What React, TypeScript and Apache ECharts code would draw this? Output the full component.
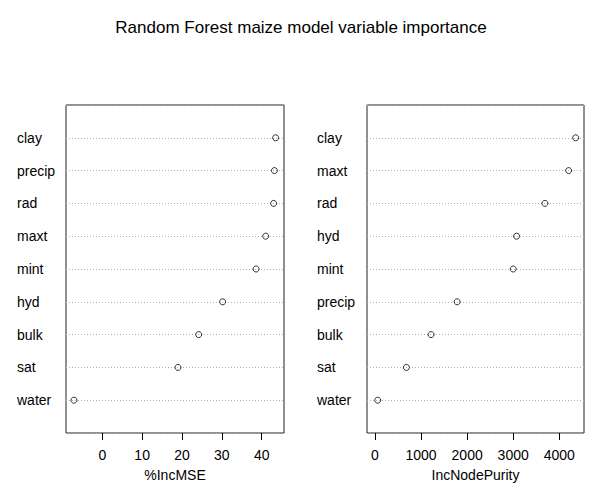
import React, { useEffect, useRef } from "react";
import * as echarts from "echarts";

const titleText = "Random Forest maize model variable importance";

const mseVars = ["clay", "precip", "rad", "maxt", "mint", "hyd", "bulk", "sat", "water"];
const mseValues = [43.5, 43.2, 43.0, 41.0, 38.6, 30.2, 24.2, 19.0, -7.1];
const mseTicks = [0, 10, 20, 30, 40];

const purityVars = ["clay", "maxt", "rad", "hyd", "mint", "precip", "bulk", "sat", "water"];
const purityValues = [4356, 4204, 3689, 3073, 3000, 1783, 1217, 682, 58];
const purityTicks = [0, 1000, 2000, 3000, 4000];

const FONT = "'Liberation Sans', Arial, sans-serif";
const rowPositions = [1, 2, 3, 4, 5, 6, 7, 8, 9];

function makeY(gridIndex: number, vars: string[], margin: number) {
  const n = vars.length;
  return {
    type: "value",
    gridIndex,
    min: 0,
    max: n + 1,
    interval: 1,
    axisLine: { show: false },
    axisTick: { show: false },
    splitLine: { show: true, lineStyle: { color: "#b0b0b0", type: [1, 2], width: 1 } },
    axisLabel: {
      customValues: rowPositions,
      align: "left",
      margin,
      fontFamily: FONT,
      fontSize: 14,
      color: "#000",
      formatter: (v: number) => vars[n - v] ?? "",
    },
  };
}

function makeX(gridIndex: number, min: number, max: number, ticks: number[], name: string) {
  return {
    type: "value",
    gridIndex,
    min,
    max,
    name,
    nameLocation: "middle",
    nameGap: 35,
    nameTextStyle: { fontFamily: FONT, fontSize: 14, color: "#000" },
    axisLine: { show: false },
    axisTick: { show: true, length: 7, customValues: ticks, lineStyle: { color: "#000" } },
    axisLabel: {
      customValues: ticks,
      margin: 15,
      fontFamily: FONT,
      fontSize: 14,
      color: "#000",
      formatter: (v: number) => String(v),
    },
    splitLine: { show: false },
  };
}

function toData(values: number[]) {
  const n = values.length;
  return values.map((v, i) => [v, n - i]);
}

export default function App() {
  const ref = useRef<HTMLDivElement>(null);
  useEffect(() => {
    if (!ref.current) return;
    const chart = echarts.init(ref.current, null, { renderer: "svg" });
    const symbolStyle = { color: "rgba(255,255,255,0)", borderColor: "#000", borderWidth: 1 };
    chart.setOption({
      animation: false,
      backgroundColor: "#fff",
      title: {
        text: titleText,
        left: "center",
        top: 14,
        textStyle: { fontFamily: FONT, fontSize: 17, fontWeight: "normal", color: "#000" },
      },
      grid: [
        { left: 66, top: 105, width: 218, height: 328, show: true, borderColor: "#222", borderWidth: 1, backgroundColor: "transparent" },
        { left: 367, top: 105, width: 217, height: 328, show: true, borderColor: "#222", borderWidth: 1, backgroundColor: "transparent" },
      ],
      xAxis: [
        makeX(0, -9.1, 45.6, mseTicks, "%IncMSE"),
        makeX(1, -174, 4537, purityTicks, "IncNodePurity"),
      ],
      yAxis: [makeY(0, mseVars, 49), makeY(1, purityVars, 50)],
      series: [
        {
          type: "scatter",
          xAxisIndex: 0,
          yAxisIndex: 0,
          symbol: "circle",
          symbolSize: 6,
          itemStyle: symbolStyle,
          data: toData(mseValues),
        },
        {
          type: "scatter",
          xAxisIndex: 1,
          yAxisIndex: 1,
          symbol: "circle",
          symbolSize: 6,
          itemStyle: symbolStyle,
          data: toData(purityValues),
        },
      ],
    });
    return () => chart.dispose();
  }, []);
  return <div ref={ref} style={{ width: 602, height: 503, position: "absolute", left: 0, top: 0 }} />;
}
